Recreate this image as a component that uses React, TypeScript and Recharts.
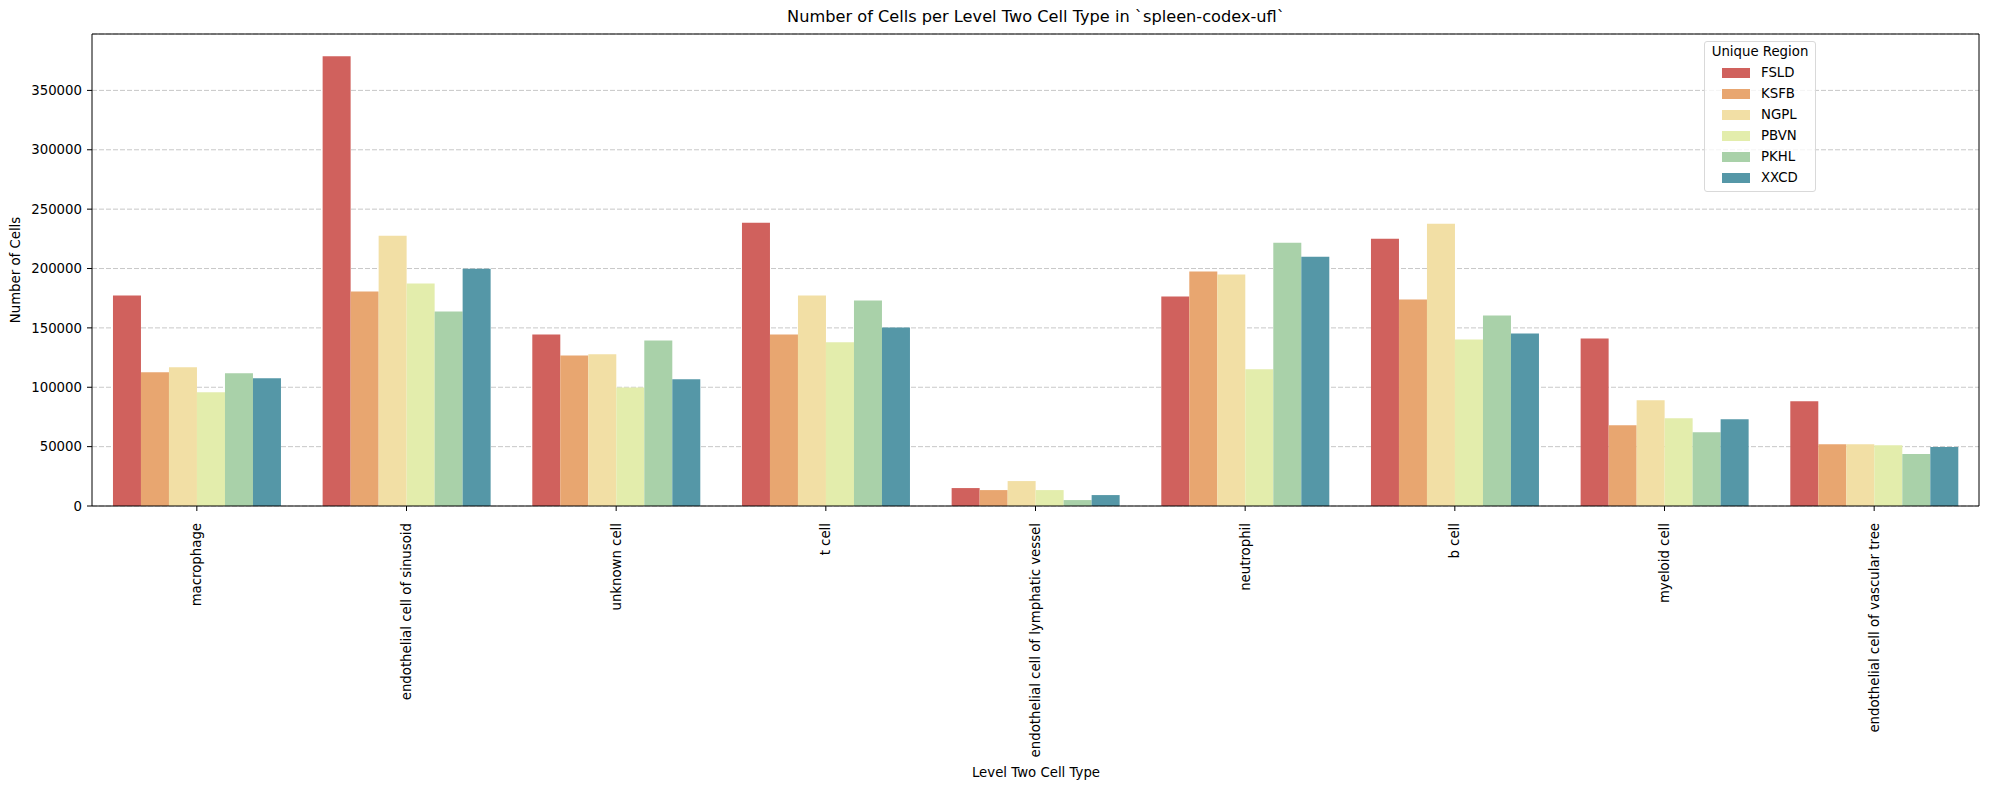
import { BarChart, Bar, XAxis, YAxis, CartesianGrid, Legend } from "recharts";

document.body.style.margin = "0";

const categories = [
  "macrophage",
  "endothelial cell of sinusoid",
  "unknown cell",
  "t cell",
  "endothelial cell of lymphatic vessel",
  "neutrophil",
  "b cell",
  "myeloid cell",
  "endothelial cell of vascular tree",
];

const regions = ["FSLD", "KSFB", "NGPL", "PBVN", "PKHL", "XXCD"];

const FSLD = [177200, 378800, 144500, 238500, 15100, 176400, 225100, 141100, 88200];
const KSFB = [112600, 180600, 126800, 144500, 13400, 197400, 173900, 68000, 52100];
const NGPL = [116800, 227600, 127700, 177200, 21000, 194900, 237700, 89000, 52100];
const PBVN = [95800, 187300, 99900, 137800, 13400, 115100, 140300, 73900, 51200];
const PKHL = [111700, 163800, 139400, 173000, 5000, 221800, 160400, 62200, 43700];
const XXCD = [107500, 199700, 106700, 150400, 9200, 210000, 145300, 73100, 49600];

const yTicks = [0, 50000, 100000, 150000, 200000, 250000, 300000, 350000];

const colors = ["#d0615d", "#e8a670", "#f2dfa5", "#e3edac", "#a9d1a9", "#5597a7"];

const series = [FSLD, KSFB, NGPL, PBVN, PKHL, XXCD];

const data = categories.map((name, i) => {
  const row: Record<string, number | string> = { name };
  regions.forEach((r, j) => {
    row[r] = series[j][i];
  });
  return row;
});

const font = "'DejaVu Sans', sans-serif";
const fs = 13.3;

function CategoryTick({ x, y, payload }: any) {
  return (
    <g transform={`translate(${x},${y})`}>
      <text
        transform="rotate(-90)"
        x={-10}
        y={0}
        dy="0.35em"
        textAnchor="end"
        fontSize={fs}
        fontFamily={font}
        fill="#000"
      >
        {payload.value}
      </text>
    </g>
  );
}

function RegionLegend() {
  return (
    <div
      style={{
        width: 112,
        height: 151,
        boxSizing: "border-box",
        border: "1px solid #d9d9d9",
        borderRadius: 3,
        background: "rgba(255,255,255,0.8)",
        fontFamily: font,
        fontSize: fs,
        color: "#000",
        position: "relative",
      }}
    >
      <div style={{ position: "absolute", top: 1, left: 0, width: "100%", textAlign: "center", lineHeight: "18px" }}>
        Unique Region
      </div>
      {regions.map((r, i) => (
        <div key={r} style={{ position: "absolute", top: 22 + i * 21, left: 17, height: 18, display: "flex", alignItems: "center" }}>
          <span style={{ display: "inline-block", width: 28, height: 10, background: colors[i] }} />
          <span style={{ marginLeft: 11, lineHeight: "18px" }}>{r}</span>
        </div>
      ))}
    </div>
  );
}

export default function App() {
  return (
    <div style={{ position: "relative", width: 1990, height: 790, background: "#fff" }}>
      <div
        style={{
          position: "absolute",
          top: 7,
          left: 92,
          width: 1888,
          textAlign: "center",
          fontFamily: font,
          fontSize: 16.2,
          color: "#000",
        }}
      >
        Number of Cells per Level Two Cell Type in `spleen-codex-ufl`
      </div>
      <BarChart
        width={1990}
        height={790}
        data={data}
        margin={{ top: 33, right: 10, left: 0, bottom: 0 }}
        barCategoryGap="10%"
        barGap={0}
      >
        <XAxis
          dataKey="name"
          interval={0}
          height={284}
          stroke="#000"
          tick={<CategoryTick />}
          tickSize={5}
          tickLine={{ stroke: "#000" }}
          axisLine={{ stroke: "#000" }}
          label={{
            content: () => (
              <text x={1036} y={772} dy="0.35em" textAnchor="middle" fontSize={fs} fontFamily={font} fill="#000">
                Level Two Cell Type
              </text>
            ),
          }}
        />
        <XAxis
          xAxisId="top"
          orientation="top"
          dataKey="name"
          height={1}
          stroke="#000"
          tick={false}
          tickLine={false}
          axisLine={{ stroke: "#000" }}
        />
        <YAxis
          width={92}
          domain={[0, 397500]}
          ticks={yTicks}
          allowDataOverflow
          stroke="#000"
          tickSize={5}
          tickMargin={5}
          tick={{ fontSize: fs, fontFamily: font, fill: "#000" }}
          tickLine={{ stroke: "#000" }}
          axisLine={{ stroke: "#000" }}
          label={{
            content: () => (
              <text
                x={15}
                y={270}
                transform="rotate(-90, 15, 270)"
                dy="0.35em"
                textAnchor="middle"
                fontSize={fs}
                fontFamily={font}
                fill="#000"
              >
                Number of Cells
              </text>
            ),
          }}
        />
        <YAxis
          yAxisId="right"
          orientation="right"
          width={1}
          domain={[0, 397500]}
          stroke="#000"
          tick={false}
          tickLine={false}
          axisLine={{ stroke: "#000" }}
        />
        {regions.map((r, i) => (
          <Bar key={r} dataKey={r} fill={colors[i]} isAnimationActive={false} />
        ))}
        <CartesianGrid vertical={false} stroke="#b0b0b0" strokeOpacity={0.7} strokeDasharray="5 2" />
        <Legend
          layout="vertical"
          align="center"
          verticalAlign="middle"
          content={<RegionLegend />}
          wrapperStyle={{ position: "absolute", left: 1704, top: 41, width: 112, height: 151 }}
        />
      </BarChart>
    </div>
  );
}
